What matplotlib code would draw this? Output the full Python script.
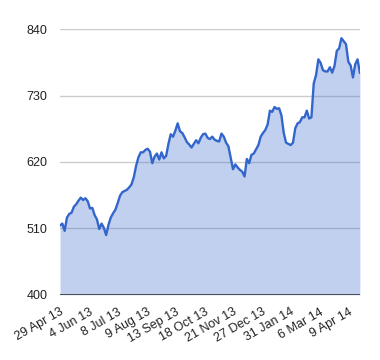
import numpy as np
import matplotlib
matplotlib.use("Agg")
from matplotlib import pyplot as plt

# closing values, one every 2 trading days (29 Apr 13 -> mid Apr 14)
values = [515, 518, 506, 528, 534, 536, 546, 550, 556, 561,
          557, 560, 555, 543, 544, 532, 525, 509, 518, 511,
          499, 516, 528, 535, 541, 552, 564, 570, 572, 574,
          578, 583, 595, 614, 628, 636, 636, 640, 642, 637,
          618, 629, 634, 624, 636, 626, 630, 650, 666, 662,
          672, 684, 671, 668, 661, 653, 649, 644, 650, 656,
          651, 660, 666, 667, 660, 658, 662, 657, 655, 654,
          667, 662, 652, 646, 627, 608, 616, 611, 607, 604,
          596, 625, 618, 632, 634, 641, 648, 662, 668, 673,
          682, 705, 703, 711, 708, 709, 697, 668, 652, 650,
          648, 652, 676, 684, 686, 694, 694, 705, 692, 694,
          750, 764, 790, 784, 772, 770, 770, 777, 768, 779,
          804, 808, 825, 820, 815, 786, 780, 760, 782, 790,
          768]
day_step = 2
tick_every = 25
tick_labels = ["29 Apr 13", "4 Jun 13", "8 Jul 13", "9 Aug 13", "13 Sep 13",
               "18 Oct 13", "21 Nov 13", "27 Dec 13", "31 Jan 14", "6 Mar 14",
               "9 Apr 14"]
y_ticks = [400, 510, 620, 730, 840]

plt.rcParams['font.family'] = ['Liberation Sans', 'DejaVu Sans']

days = np.arange(len(values)) * day_step

fig = plt.figure(figsize=(3.8, 3.6), dpi=100)
ax = fig.add_axes([0.158, 0.181, 0.789, 0.738])

blue = "#3366CC"
ax.fill_between(days, 400, values, color=blue, alpha=0.3, linewidth=0, zorder=2)
ax.plot(days, values, color=blue, linewidth=1.7, zorder=3)

ax.set_xlim(0, days[-1])
ax.set_ylim(400, 840)
ax.set_yticks(y_ticks)
ax.set_yticklabels([str(v) for v in y_ticks])
ax.set_xticks(np.arange(len(tick_labels)) * tick_every)
ax.set_xticklabels(tick_labels, rotation=30, ha="right", rotation_mode="anchor")

for v in y_ticks[1:]:
    ax.axhline(v, color="#cccccc", linewidth=1, zorder=1)
ax.axhline(400, color="#333333", linewidth=1.2, zorder=4)

for s in ax.spines.values():
    s.set_visible(False)
ax.tick_params(axis="both", length=0, labelsize=9, colors="#222222")
ax.tick_params(axis="y", pad=9)
ax.tick_params(axis="x", pad=8)

fig.savefig("out.png", dpi=100)
